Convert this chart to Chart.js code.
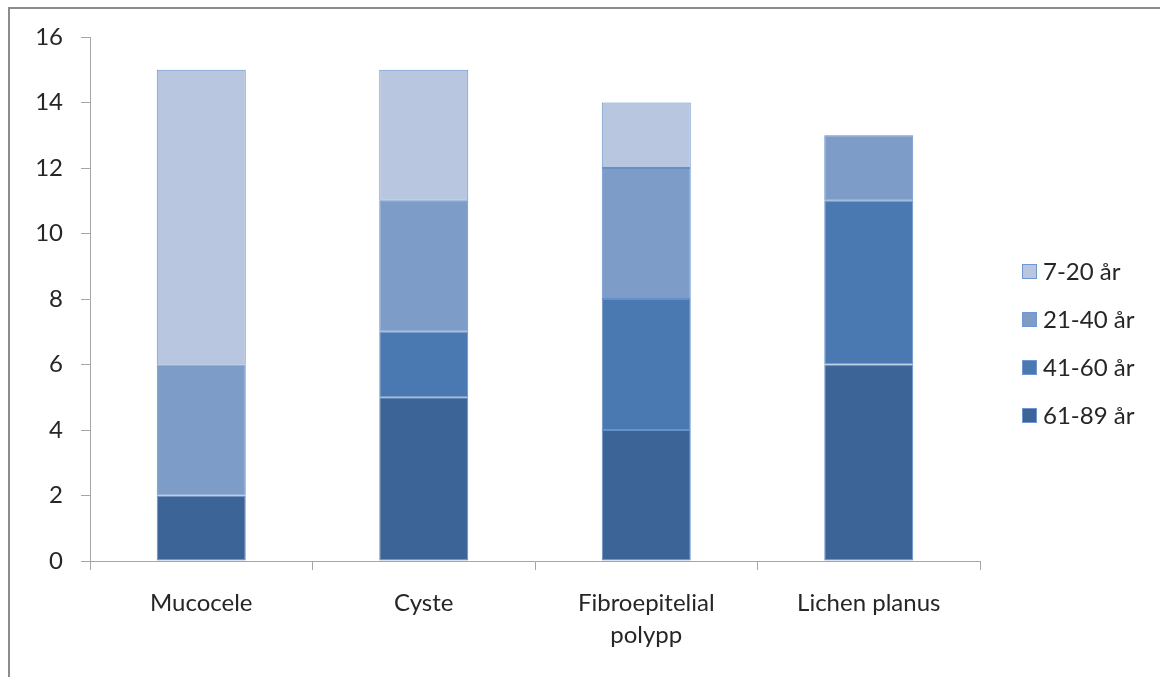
<!DOCTYPE html>
<html><head><meta charset="utf-8">
<script src="https://cdn.jsdelivr.net/npm/chart.js@4/dist/chart.umd.min.js"></script>
<style>html,body{margin:0;padding:0;background:#fff}#wrap{width:1160px;height:677px;position:relative}</style>
</head><body><div id="wrap"><canvas id="c" width="1160" height="677"></canvas></div>
<script>
const categories = [["Mucocele"], ["Cyste"], ["Fibroepitelial", "polypp"], ["Lichen planus"]];
const seriesNames = ["61-89 år", "41-60 år", "21-40 år", "7-20 år"];
const age61_89 = [2, 5, 4, 6];
const age41_60 = [null, 2, 4, 5];
const age21_40 = [4, 4, 4, 2];
const age7_20 = [9, 4, 2, null];
const yTicks = [0, 2, 4, 6, 8, 10, 12, 14, 16];

const colors = ["#3c6496", "#4a79b2", "#7e9cc8", "#b8c6df"];
const FONT = "Lato, 'Open Sans', sans-serif";
const TXT = "#262626";

const framePlugin = {
  id: 'frame',
  beforeDraw(chart) {
    const ctx = chart.ctx;
    ctx.save();
    ctx.fillStyle = '#fff';
    ctx.fillRect(0, 0, chart.width, chart.height);
    ctx.strokeStyle = '#8c8c8c';
    ctx.lineWidth = 2;
    ctx.beginPath();
    ctx.moveTo(9, chart.height);
    ctx.lineTo(9, 8);
    ctx.lineTo(chart.width, 8);
    ctx.stroke();
    ctx.restore();
  }
};

const legendPlugin = {
  id: 'sideLegend',
  afterDraw(chart) {
    const ctx = chart.ctx;
    ctx.save();
    ctx.font = "24px " + FONT;
    ctx.textBaseline = 'middle';
    const ds = chart.data.datasets.slice().reverse();
    ds.forEach((d, i) => {
      const y = 272 + i * 48;
      ctx.fillStyle = d.backgroundColor;
      ctx.fillRect(1022, y - 8, 15, 15);
      ctx.strokeStyle = '#6f98d0';
      ctx.lineWidth = 1;
      ctx.strokeRect(1022.5, y - 7.5, 14, 14);
      ctx.fillStyle = TXT;
      ctx.fillText(d.label, 1043, y);
    });
    ctx.restore();
  }
};

const series = [age61_89, age41_60, age21_40, age7_20];
new Chart(document.getElementById('c'), {
  type: 'bar',
  data: {
    labels: categories,
    datasets: series.map((s, i) => ({
      label: seriesNames[i],
      data: s,
      backgroundColor: colors[i],
      borderColor: '#6590c9',
      borderWidth: 1,
      borderSkipped: false,
      barPercentage: 0.4,
      categoryPercentage: 1.0
    }))
  },
  options: {
    responsive: false,
    animation: false,
    layout: { padding: { left: 0, right: 180, top: 37, bottom: 0 } },
    plugins: { legend: { display: false }, tooltip: { enabled: false } },
    scales: {
      x: {
        stacked: true,
        grid: { offset: true, drawOnChartArea: false, drawTicks: true, tickLength: 9, color: '#a6a6a6' },
        border: { color: '#a6a6a6', width: 1 },
        ticks: { color: TXT, font: { family: FONT, size: 24, lineHeight: 1.3 }, padding: 18, maxRotation: 0, autoSkip: false },
        afterFit(s) { s.height = 116; }
      },
      y: {
        stacked: true,
        min: 0, max: 16,
        afterBuildTicks(s) { s.ticks = yTicks.map(v => ({ value: v })); },
        grid: { drawOnChartArea: false, drawTicks: true, tickLength: 9, color: '#a6a6a6' },
        border: { color: '#a6a6a6', width: 1 },
        ticks: { color: TXT, font: { family: FONT, size: 24 }, padding: 18 },
        afterFit(s) { s.width = 90; }
      }
    }
  },
  plugins: [framePlugin, legendPlugin]
});
</script></body></html>
